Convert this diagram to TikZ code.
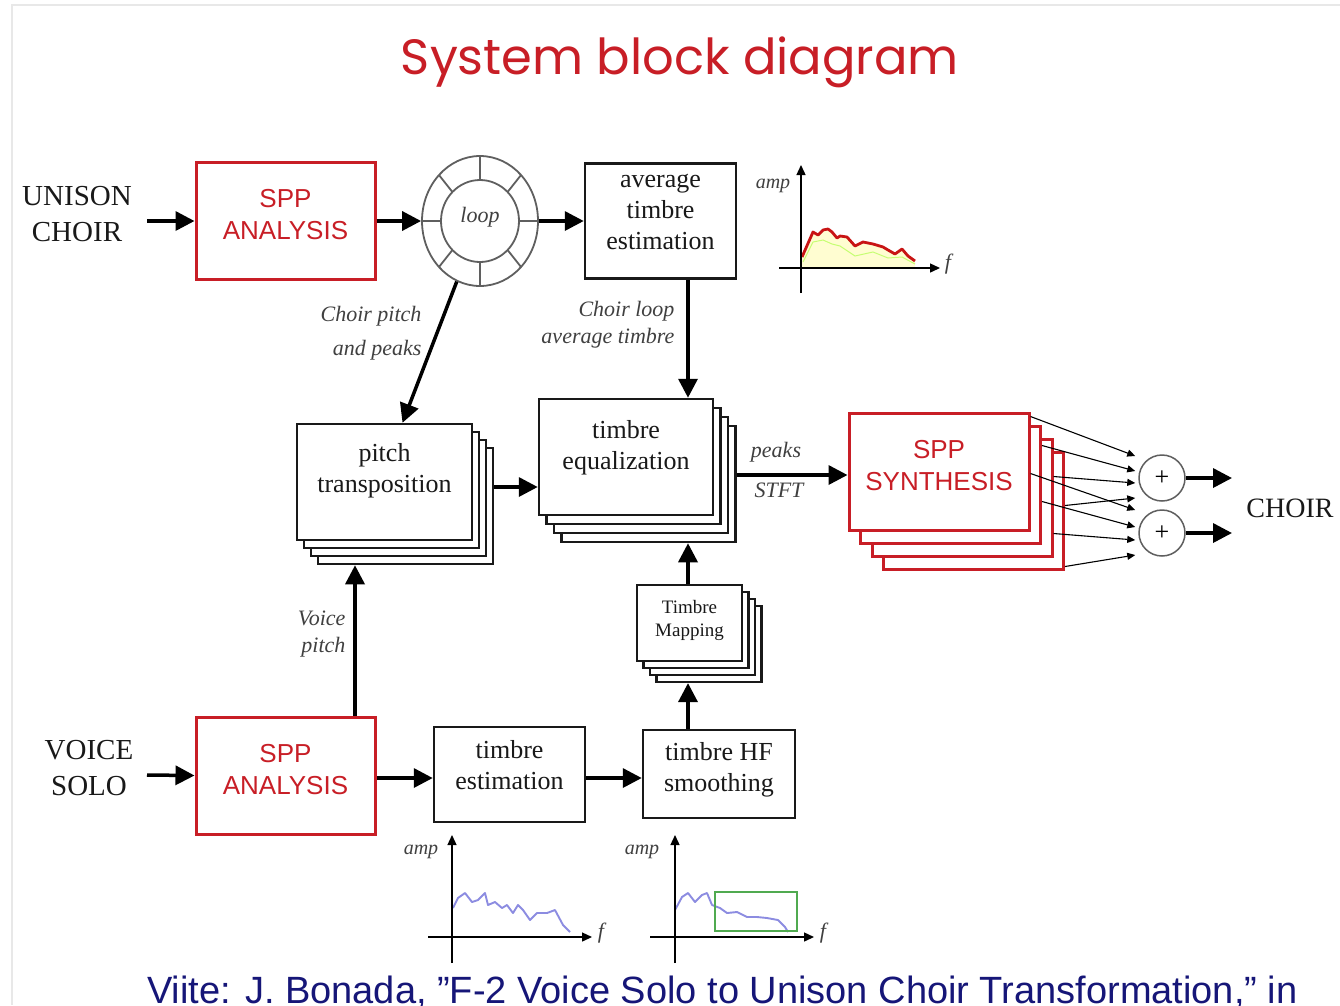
\documentclass[tikz,border=0pt]{standalone}
\usepackage{fontspec}
\usepackage{graphicx}
\setmainfont{Liberation Serif}
\newfontfamily\arialfont{Liberation Sans}
\newfontfamily\titlefont{Poppins}
\usetikzlibrary{arrows.meta,shapes.geometric,calc}

\definecolor{sppred}{RGB}{200,30,38}
\definecolor{citeblue}{RGB}{22,22,120}
\definecolor{ringgray}{RGB}{95,95,95}
\definecolor{specred}{RGB}{200,20,20}
\definecolor{specblue}{RGB}{140,140,225}
\definecolor{hfgreen}{RGB}{80,170,80}
\definecolor{framegray}{RGB}{232,232,232}

\tikzset{
  flow/.style={line width=3.5pt, -{Triangle[length=19pt,width=19pt]}},
  fan/.style={line width=1.1pt, -{Triangle[length=8pt,width=7pt]}},
  axis/.style={line width=1.4pt, -{Triangle[length=10pt,width=9pt]}},
  blk/.style={draw=black!90, line width=2.5pt, fill=white, inner sep=0pt},
  sppblk/.style={draw=sppred, line width=3pt, fill=white, inner sep=0pt},
  btxt/.style={font=\fontsize{26}{31}\selectfont, text=black!90, align=center},
  stxt/.style={font=\arialfont\fontsize{26}{32}\selectfont, text=sppred, align=center},
  lbl/.style={font=\itshape\fontsize{22}{27}\selectfont, text=black!75},
  axlbl/.style={font=\itshape\fontsize{20}{20}\selectfont, text=black!75},
  side/.style={font=\fontsize{29}{36}\selectfont, text=black!90, align=center},
}

\begin{document}
\begin{tikzpicture}[x=1pt,y=-1pt]
\useasboundingbox (0,0) rectangle (1340,1005);
\fill[white] (0,0) rectangle (1340,1005);
% slide frame
\draw[framegray, line width=1.5pt] (12,1005) -- (12,5) -- (1340,5);

% title
\node[text=sppred] (title) at (680,62) {\resizebox{558pt}{!}{\titlefont System block diagram}};

% column / row helpers
\coordinate (colx) at (688,0);
\coordinate (colv) at (355,0);
\coordinate (rowm) at (0,487);
\coordinate (rows) at (0,475);
\coordinate (rowb) at (0,778);

% ---------- upper chain ----------
\node[side] (uc) at (77,214) {UNISON\\CHOIR};
\coordinate (ucout) at (147,221);
\node[sppblk, minimum width=179pt, minimum height=117pt,
      label={[stxt,yshift=6pt]center:{SPP\\ANALYSIS}}] (sppA) at (285.5,221) {};

\node[ellipse, draw=ringgray, line width=1.8pt, minimum width=116pt, minimum height=130pt,
      inner sep=0pt, label={[lbl,yshift=4pt]center:loop}] (loop) at (480,221) {};
\draw[ringgray, line width=1.8pt] (loop.center) ellipse [x radius=39pt, y radius=41pt];
\foreach \a in {0,45,...,315}
  \draw[ringgray, line width=1.8pt] ($(loop.center)+(\a:39pt and 41pt)$) -- ($(loop.center)+(\a:58pt and 65pt)$);

\node[blk, minimum width=151pt, minimum height=115pt,
      label={[btxt,yshift=9pt]center:{average\\timbre\\estimation}}] (ate) at (660.5,221) {};

% pitch transposition stack
\foreach \i in {3,2,1}
  \node[blk, minimum width=175pt, minimum height=116pt] (pt-\i) at ({384.5+7*\i},{482+8*\i}) {};
\node[blk, minimum width=175pt, minimum height=116pt,
      label={[btxt,yshift=11pt]center:{pitch\\transposition}}] (pt) at (384.5,482) {};

% timbre equalization stack
\foreach \i in {3,2,1}
  \node[blk, minimum width=174pt, minimum height=116pt] (te-\i) at ({626+7.5*\i},{457+9*\i}) {};
\node[blk, minimum width=174pt, minimum height=116pt,
      label={[btxt,yshift=9.5pt]center:{timbre\\equalization}}] (te) at (626,457) {};

% SPP synthesis stack
\foreach \i in {3,2,1}
  \node[sppblk, minimum width=180pt, minimum height=117pt] (ss-\i) at ({939+11.5*\i},{471.5+13*\i}) {};
\node[sppblk, minimum width=180pt, minimum height=117pt,
      label={[stxt,yshift=6pt]center:{SPP\\SYNTHESIS}}] (ss) at (939,471.5) {};

% timbre mapping stack
\foreach \i in {3,2,1}
  \node[blk, line width=2.2pt, minimum width=105pt, minimum height=76pt] (tm-\i) at ({689.5+6.5*\i},{623+7*\i}) {};
\node[blk, line width=2.2pt, minimum width=105pt, minimum height=76pt,
      label={[btxt,font=\fontsize{19}{23}\selectfont,yshift=2.5pt]center:{Timbre\\Mapping}}] (tm) at (689.5,623) {};

% summing nodes
\node[circle, draw=ringgray, line width=1.5pt, minimum size=46pt, inner sep=0pt,
      font=\fontsize{26}{26}\selectfont] (sum1) at (1162,478) {+};
\node[circle, draw=ringgray, line width=1.5pt, minimum size=46pt, inner sep=0pt,
      font=\fontsize{26}{26}\selectfont] (sum2) at (1162,533) {+};
\coordinate (out1) at (1232,478);
\coordinate (out2) at (1232,533);
\node[side, font=\fontsize{28}{34}\selectfont] (choir) at (1290,508) {CHOIR};

% ---------- lower chain ----------
\node[side] (vs) at (89,768) {VOICE\\SOLO};
\coordinate (vsout) at (147,775);
\node[sppblk, minimum width=179pt, minimum height=117pt,
      label={[stxt,yshift=6pt]center:{SPP\\ANALYSIS}}] (sppB) at (285.5,775.5) {};
\node[blk, minimum width=151pt, minimum height=95pt,
      label={[btxt,yshift=9pt]center:{timbre\\estimation}}] (tes) at (509.5,774.5) {};
\node[blk, minimum width=152pt, minimum height=88pt,
      label={[btxt,yshift=4.5pt]center:{timbre HF\\smoothing}}] (hf) at (719,774) {};

% ---------- connectors ----------
\draw[flow] (ucout) -- (sppA.west);
\draw[flow] (sppA.east) -- (loop.west);
\draw[flow] (loop.east) -- (ate.west);
\draw[flow] (loop.249) -- ($(pt.north)+(18,0)$);
\draw[flow] (ate.south -| colx) -- (te.north -| colx);
\draw[flow] (pt-3.east |- rowm) -- (te.west |- rowm);
\draw[flow] (te-3.east |- rows) -- (ss.west |- rows);
\draw[flow] (tm.north -| colx) -- (te-3.south -| colx);
\draw[flow] (hf.north -| colx) -- (tm-3.south -| colx);
\draw[flow] (sppB.north -| colv) -- (pt-3.south -| colv);
\draw[flow] (vsout) -- (sppB.west);
\draw[flow] (sppB.east |- rowb) -- (tes.west |- rowb);
\draw[flow] (tes.east |- rowb) -- (hf.west |- rowb);
\draw[flow] (sum1.east) -- (out1);
\draw[flow] (sum2.east) -- (out2);

% synthesis outputs to the two summing nodes
\draw[fan] ($(ss.north east)+(0,5)$)    -- ($(sum1.west)+(-3,-22)$);
\draw[fan] ($(ss.north east)+(0,62)$)   -- ($(sum2.west)+(-3,-23)$);
\draw[fan] ($(ss-1.north east)+(0,21)$) -- ($(sum1.west)+(-3,-7)$);
\draw[fan] ($(ss-1.north east)+(0,77)$) -- ($(sum2.west)+(-3,-6)$);
\draw[fan] ($(ss-2.north east)+(0,39)$) -- ($(sum1.west)+(-3,5)$);
\draw[fan] ($(ss-2.north east)+(0,96)$) -- ($(sum2.west)+(-3,7)$);
\draw[fan] ($(ss-3.north east)+(0,55)$) -- ($(sum1.west)+(-3,20)$);
\draw[fan] ($(ss-3.north east)+(0,116)$)-- ($(sum2.west)+(-3,22)$);

% connector labels
\node[lbl, font=\itshape\fontsize{22}{34}\selectfont, align=right, anchor=east] (lcp) at (425,333) {Choir pitch\\and peaks};
\node[lbl, align=right, anchor=east] (lcl) at (678,325) {Choir loop\\average timbre};
\node[lbl, align=right, anchor=east] (lvp) at (349,634) {Voice\\pitch};
\node[lbl] (lpk) at (776,452) {peaks};
\node[lbl] (lst) at (779,490) {STFT};

% ---------- spectrum sketches ----------
% average choir spectrum
\fill[yellow!18] (802,268) -- (802,257) -- (813,232) -- (818,235) -- (823,230) -- (828,229) -- (832,232)
  -- (837,238) -- (840,236) -- (847,237) -- (855,246) -- (863,242) -- (873,244) -- (883,247)
  -- (888,250) -- (895,254) -- (902,249) -- (908,256) -- (915,261) -- (915,268) -- cycle;
\draw[green!45!yellow!70, line width=1pt, opacity=0.7] (803,262) -- (813,242) -- (823,240) -- (832,244)
  -- (840,246) -- (855,256) -- (873,252) -- (888,258) -- (902,257) -- (915,264);
\draw[specred, line width=2.8pt, line join=round] (802,257) -- (813,232) -- (818,235) -- (823,230) -- (828,229)
  -- (832,232) -- (837,238) -- (840,236) -- (847,237) -- (855,246) -- (863,242) -- (873,244)
  -- (883,247) -- (888,250) -- (895,254) -- (902,249) -- (908,256) -- (915,261);
\draw[axis] (801,293) -- (801,165);
\draw[axis] (779,268) -- (940,268);
\node[axlbl] at (773,186) {amp};
\node[axlbl, font=\itshape\fontsize{22}{22}\selectfont] at (948,264) {f};

% solo spectrum
\draw[specblue, line width=1.9pt, line join=round] (453,908) -- (458,898) -- (465,893) -- (472,902) -- (478,900)
  -- (485,893) -- (488,905) -- (495,902) -- (502,908) -- (507,905) -- (513,913) -- (518,905)
  -- (523,910) -- (530,920) -- (537,913) -- (547,913) -- (555,910) -- (563,925) -- (570,932);
\draw[axis] (452,963) -- (452,835);
\draw[axis] (428,937) -- (592,937);
\node[axlbl] at (421,852) {amp};
\node[axlbl, font=\itshape\fontsize{22}{22}\selectfont] at (601,933) {f};

% smoothed spectrum with the high-frequency band marked
\draw[specblue, line width=1.9pt, line join=round] (675,910) -- (682,897) -- (688,893) -- (695,902) -- (702,895)
  -- (707,893) -- (712,905) -- (720,908) -- (727,913) -- (737,912) -- (747,917) -- (757,917)
  -- (767,918) -- (778,920) -- (785,927) -- (788,932);
\draw[hfgreen, line width=1.6pt] (715,892) rectangle (797,931);
\draw[axis] (675,963) -- (675,835);
\draw[axis] (650,937) -- (814,937);
\node[axlbl] at (642,852) {amp};
\node[axlbl, font=\itshape\fontsize{22}{22}\selectfont] at (823,933) {f};

% reference line
\node[anchor=base west, inner sep=0pt, text=citeblue, font=\arialfont\fontsize{38}{38}\selectfont] (cite)
  at (147,1003) {Viite: J. Bonada, ”F-2 Voice Solo to Unison Choir Transformation,” in};
\end{tikzpicture}
\end{document}
